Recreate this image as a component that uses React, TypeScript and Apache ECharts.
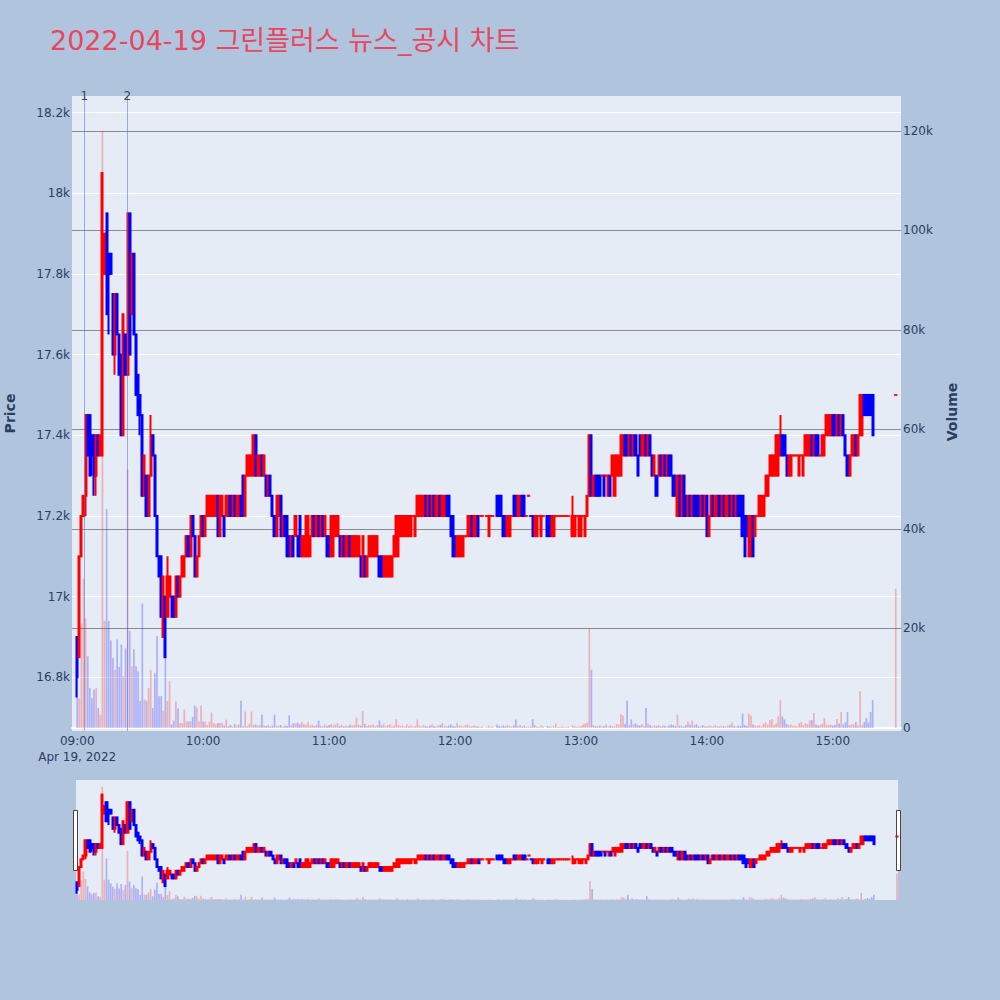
import React, { useEffect, useRef } from "react";
import * as echarts from "echarts";

const TITLE = "2022-04-19 그린플러스 뉴스_공시 차트";
const DATE_TEXT = "Apr 19, 2022";
const FONT = '"DejaVu Sans", Verdana, "Noto Sans CJK KR", sans-serif';

const hourTicks = ["09:00", "10:00", "11:00", "12:00", "13:00", "14:00", "15:00"];
const padLeft = ["08:58", "08:59"];
const padRight = ["15:31", "15:32"];
const newsMarks = [
  { name: "1", minute: 3.33 },
  { name: "2", minute: 23.8 },
];

// one entry per minute, 09:00 .. 15:30 (null = no trade)
const opens = [
  16900, 16850, 17100, 17200, 17250, 17450, 17450, 17400, 17400, 17300,
  17400, 17350, 17350, 17800, 17950, 17850, 17850, 17750, 17600, 17750,
  17650, 17600, 17400, 17650, 17550, 17950, 17700, 17850, 17650, 17550,
  17500, 17450, 17250, 17300, 17200, 17300, 17400, 17350, 17200, 17100,
  17100, 16900, 17000, 16950, 17000, 17000, 17000, 16950, 17050, 17000,
  17050, 17050, 17100, 17150, 17100, 17200, 17150, 17050, 17100, 17150,
  17200, 17150, 17200, 17200, 17200, 17200, 17200, 17250, 17150, 17200,
  17200, 17200, 17200, 17250, 17200, 17250, 17200, 17200, 17250, 17300,
  17200, 17300, 17300, 17300, 17300, 17400, 17300, 17300, 17350, 17300,
  17300, 17250, 17300, 17250, 17200, 17150, 17200, 17250, 17150, 17200,
  17200, 17150, 17100, 17150, 17150, 17150, 17200, 17100, 17100, 17100,
  17100, 17100, 17150, 17200, 17150, 17200, 17150, 17200, 17150, 17150,
  17150, 17100, 17100, 17150, 17150, 17150, 17100, 17150, 17100, 17100,
  17150, 17100, 17100, 17100, 17100, 17100, 17050, 17100, 17050, 17100,
  17100, 17100, 17100, 17100, 17100, 17100, 17050, 17050, 17050, 17050,
  17050, 17100, 17100, 17100, 17150, 17150, 17150, 17150, 17150, 17150,
  17200, 17150, 17200, 17200, 17200, 17200, 17250, 17200, 17250, 17200,
  17250, 17200, 17200, 17250, 17200, 17200, 17250, 17250, 17200, 17200,
  17150, 17100, 17100, 17100, 17100, 17150, 17150, 17150, 17200, 17150,
  17150, 17200, 17200, 17200, null, 17200, 17150, 17200, 17200, null,
  17250, 17250, 17250, 17200, 17200, 17150, 17150, 17200, 17250, 17250,
  17200, 17200, 17250, 17250, 17200, 17250, 17200, 17200, 17150, 17150,
  17200, 17150, 17200, null, 17200, 17200, 17150, 17150, 17200, 17200,
  17200, 17200, 17200, 17200, 17200, null, 17150, 17150, 17200, 17150,
  17150, 17200, 17150, 17200, 17250, 17400, 17250, 17300, 17300, 17300,
  17300, 17300, 17300, 17250, 17300, 17300, 17250, 17300, 17300, 17300,
  17350, 17400, 17400, 17350, 17400, 17350, 17400, 17350, 17400, 17350,
  17350, 17400, 17350, 17400, 17350, 17300, 17300, 17300, 17350, 17300,
  17350, 17300, 17350, 17350, 17300, 17300, 17200, 17300, 17200, 17300,
  17250, 17200, 17250, 17200, 17250, 17250, 17250, 17200, 17250, 17200,
  17250, 17150, 17200, 17250, 17200, 17200, 17250, 17200, 17250, 17200,
  17200, 17250, 17200, 17250, 17200, 17250, 17250, 17250, 17200, 17200,
  17100, 17100, 17200, 17150, 17200, 17200, 17200, 17200, 17250, 17250,
  17300, 17300, 17300, 17300, 17300, 17350, 17400, 17400, 17350, 17300,
  17300, 17350, 17350, 17350, 17300, 17350, 17300, 17350, 17350, 17350,
  17400, 17350, 17400, 17400, 17350, 17350, 17350, 17400, 17400, 17400,
  17450, 17450, 17400, 17450, 17400, 17450, 17400, 17350, 17300, 17350,
  17350, 17400, 17350, 17400, 17400, 17500, 17500, 17500, 17500, 17500,
  null, null, null, null, null, null, null, null, null, null,
  17500,
];

const closes = [
  16800, 17100, 17200, 17250, 17450, 17350, 17300, 17350, 17300, 17400,
  17350, 17400, 18050, 17900, 17700, 17800, 17800, 17600, 17750, 17650,
  17550, 17400, 17700, 17550, 17950, 17600, 17850, 17650, 17500, 17450,
  17450, 17250, 17350, 17200, 17300, 17400, 17350, 17200, 17100, 17050,
  16950, 17050, 16850, 17050, 17050, 16950, 16950, 17050, 17000, 17050,
  17100, 17100, 17150, 17100, 17200, 17150, 17050, 17100, 17150, 17200,
  17150, 17200, 17250, 17250, 17250, 17250, 17250, 17150, 17250, 17250,
  17150, 17250, 17250, 17200, 17250, 17200, 17250, 17250, 17200, 17200,
  17300, 17350, 17350, 17350, 17400, 17300, 17350, 17350, 17300, 17350,
  17250, 17300, 17250, 17200, 17150, 17250, 17250, 17150, 17200, 17150,
  17100, 17100, 17150, 17100, 17200, 17100, 17100, 17150, 17150, 17200,
  17200, 17150, 17200, 17150, 17200, 17150, 17200, 17150, 17200, 17100,
  17100, 17200, 17200, 17200, 17200, 17100, 17150, 17100, 17150, 17150,
  17100, 17150, 17150, 17150, 17150, 17050, 17150, 17050, 17100, 17150,
  17150, 17150, 17150, 17150, 17050, 17050, 17100, 17100, 17100, 17100,
  17100, 17150, 17200, 17200, 17200, 17200, 17200, 17200, 17200, 17200,
  17200, 17200, 17250, 17250, 17250, 17250, 17200, 17250, 17200, 17250,
  17200, 17250, 17250, 17200, 17250, 17250, 17200, 17200, 17150, 17100,
  17100, 17150, 17150, 17150, 17150, 17150, 17200, 17200, 17150, 17200,
  17200, 17150, 17200, 17200, null, 17200, 17200, 17200, 17200, null,
  17200, 17200, 17200, 17150, 17150, 17200, 17200, 17200, 17200, 17200,
  17250, 17250, 17200, 17200, 17200, 17250, 17200, 17150, 17200, 17200,
  17200, 17200, 17200, null, 17150, 17150, 17200, 17200, 17200, 17200,
  17200, 17200, 17200, 17200, 17200, null, 17200, 17200, 17200, 17200,
  17200, 17200, 17200, 17250, 17400, 17250, 17300, 17250, 17250, 17250,
  17300, 17250, 17300, 17300, 17250, 17350, 17350, 17350, 17350, 17400,
  17400, 17350, 17350, 17400, 17350, 17400, 17350, 17300, 17350, 17400,
  17400, 17350, 17400, 17350, 17300, 17350, 17250, 17350, 17300, 17350,
  17300, 17350, 17300, 17300, 17250, 17250, 17300, 17200, 17300, 17200,
  17200, 17250, 17200, 17250, 17200, 17200, 17200, 17250, 17200, 17250,
  17150, 17200, 17250, 17200, 17250, 17250, 17200, 17250, 17200, 17250,
  17250, 17200, 17250, 17200, 17250, 17200, 17200, 17150, 17100, 17150,
  17200, 17200, 17100, 17200, 17200, 17250, 17250, 17250, 17300, 17300,
  17350, 17350, 17350, 17400, 17400, 17400, 17350, 17350, 17300, 17350,
  17350, 17350, 17350, 17350, 17350, 17350, 17350, 17400, 17400, 17400,
  17350, 17400, 17350, 17350, 17350, 17400, 17400, 17450, 17450, 17450,
  17400, 17400, 17450, 17400, 17450, 17400, 17350, 17300, 17350, 17400,
  17400, 17350, 17400, 17500, 17500, 17450, 17450, 17450, 17450, 17400,
  null, null, null, null, null, null, null, null, null, null,
  17500,
];

// wick extremes read where a thin wick sticks out beyond the body
const highWicks: Record<number, number> = { 35: 17450, 43: 17100, 236: 17250, 335: 17450 };
const lowWicks: Record<number, number> = {
  0: 16750, 4: 17200, 7: 17300, 8: 17250, 9: 17250, 15: 17650, 18: 17550, 30: 17400,
};

const volumes = [
  10000, 6000, 21000, 30000, 22000, 14400, 8000, 6000, 7700, 8000,
  4000, 2700, 120000, 21500, 44000, 21500, 17600, 14000, 11700, 17800,
  12300, 16800, 10400, 16000, 52000, 19500, 12400, 15800, 12400, 11400,
  5400, 25000, 5700, 5500, 8000, 11700, 4000, 11000, 18500, 6400,
  6400, 3500, 14400, 5400, 9400, 700, 1500, 5400, 3900, 1000,
  1000, 3700, 1300, 1300, 1400, 2200, 4500, 4100, 1300, 4500,
  1300, 1300, 600, 1300, 3100, 1000, 800, 1000, 1000, 1000,
  500, 1700, 400, 600, 300, 800, 500, 700, 5500, 300,
  3300, 400, 800, 3300, 600, 700, 500, 600, 2700, 500,
  400, 600, 300, 500, 2700, 400, 500, 600, 300, 500,
  400, 2500, 600, 1000, 900, 1100, 700, 1200, 800, 600,
  1200, 500, 700, 400, 600, 1500, 500, 300, 700, 400,
  600, 800, 500, 700, 1000, 400, 600, 300, 500, 400,
  700, 500, 600, 2100, 700, 500, 3400, 800, 400, 600,
  500, 700, 400, 600, 1500, 500, 900, 400, 600, 700,
  300, 500, 1800, 600, 400, 500, 300, 700, 400, 500,
  300, 400, 1700, 500, 300, 600, 400, 300, 500, 700,
  400, 300, 500, 600, 1000, 400, 300, 500, 700, 400,
  300, 1000, 500, 400, 300, 600, 700, 400, 300, 500,
  400, 300, 200, 300, null, 200, 500, 200, 300, null,
  700, 400, 300, 500, 300, 600, 400, 300, 500, 1700,
  400, 600, 300, 500, 200, 300, 200, 1800, 600, 300,
  200, 500, 300, null, 400, 300, 200, 400, 900, 200,
  200, 300, 200, 200, 300, null, 500, 400, 200, 300,
  400, 700, 900, 1100, 20000, 11700, 600, 400, 300, 500,
  300, 400, 700, 300, 500, 400, 300, 800, 700, 2800,
  2500, 800, 5500, 600, 1700, 700, 900, 600, 500, 800,
  400, 4000, 900, 600, 300, 500, 400, 600, 300, 500,
  400, 300, 500, 700, 600, 400, 2700, 500, 400, 300,
  600, 1300, 700, 1500, 500, 800, 400, 300, 600, 400,
  300, 500, 400, 300, 600, 400, 300, 500, 400, 300,
  500, 600, 1100, 400, 300, 500, 400, 2900, 600, 400,
  2900, 2500, 700, 500, 400, 600, 300, 900, 1100, 700,
  1600, 1800, 600, 900, 2300, 5600, 2300, 1700, 800, 600,
  700, 400, 500, 300, 1000, 1200, 600, 1000, 800, 1500,
  1600, 3000, 700, 500, 600, 900, 2000, 700, 600, 700,
  500, 600, 1800, 900, 3200, 700, 1200, 3200, 600, 800,
  700, 1200, 500, 7400, 600, 1200, 2000, 1100, 3200, 5600,
  null, null, null, null, null, null, null, null, null, null,
  28000,
];

const UP = "#ff0000";
const DOWN = "#0000ff";
const UP_VOL = "rgba(255,0,0,0.25)";
const DOWN_VOL = "rgba(0,0,255,0.25)";

function buildSeriesData(offset: number) {
  const times: string[] = [];
  for (let m = 0; m < opens.length; m++) {
    const h = 9 + Math.floor(m / 60);
    const mm = m % 60;
    times.push(`${String(h).padStart(2, "0")}:${String(mm).padStart(2, "0")}`);
  }
  let lastClose: number | null = null;
  const candles: any[] = [];
  const vols: any[] = [];
  const dojis: any[] = [];
  opens.forEach((o, i) => {
    const c = closes[i];
    if (o == null || c == null) {
      candles.push("-");
      vols.push("-");
      return;
    }
    const up = c > o ? true : c < o ? false : lastClose == null || lastClose <= c;
    lastClose = c;
    const col = up ? UP : DOWN;
    const low = lowWicks[i] ?? Math.min(o, c);
    const high = highWicks[i] ?? Math.max(o, c);
    candles.push({
      value: [o, c, low, high],
      itemStyle: { color: col, color0: col, borderColor: col, borderColor0: col },
    });
    if (o === c) dojis.push({ value: [i + offset, c], itemStyle: { color: col } });
    const v = volumes[i];
    vols.push(v == null ? "-" : { value: v, itemStyle: { color: up ? UP_VOL : DOWN_VOL } });
  });
  return { times, candles, vols, dojis };
}

export default function App() {
  const ref = useRef<HTMLDivElement>(null);
  useEffect(() => {
    if (!ref.current) return;
    const chart = echarts.init(ref.current, undefined, { renderer: "svg" });
    const { times, candles, vols, dojis } = buildSeriesData(padLeft.length);
    const miniDojis = buildSeriesData(0).dojis;
    const mainCats = [...padLeft, ...times, ...padRight];
    const padL = padLeft.map(() => "-");
    const padR = padRight.map(() => "-");
    const axisText = { color: "#2a3f5f", fontSize: 12, fontFamily: FONT };
    const priceFmt = (v: number) => (v % 200 === 0 ? `${v / 1000}k` : "");
    const volFmt = (v: number) => (v === 0 ? "0" : v % 20000 === 0 ? `${v / 1000}k` : "");
    const candleStyle = { color: UP, color0: DOWN, borderColor: UP, borderColor0: DOWN, borderWidth: 2 };

    const option: any = {
      animation: false,
      backgroundColor: "#b0c4de",
      textStyle: { fontFamily: FONT },
      title: {
        text: TITLE,
        left: 45,
        top: 22,
        textStyle: { color: "#e8475f", fontSize: 27, fontWeight: "normal", fontFamily: FONT },
      },
      grid: [
        { left: 72, right: 99, top: 96, bottom: 269, show: true, backgroundColor: "#e5ecf6", borderWidth: 0, containLabel: false, outerBoundsMode: "none" },
        { left: 72, right: 99, top: 96, bottom: 272, containLabel: false, outerBoundsMode: "none" },
        { left: 76, right: 102, top: 780, bottom: 100, show: true, backgroundColor: "#e5ecf6", borderWidth: 0, containLabel: false, outerBoundsMode: "none" },
      ],
      xAxis: [
        {
          gridIndex: 0,
          type: "category",
          data: mainCats,
          boundaryGap: true,
          axisLine: { show: false },
          axisTick: { show: false },
          splitLine: { show: false },
          axisLabel: {
            ...axisText,
            interval: (_i: number, val: string) => hourTicks.includes(val),
            formatter: (val: string) => (val === hourTicks[0] ? `${val}\n${DATE_TEXT}` : val),
            lineHeight: 16,
            margin: 2,
          },
        },
        {
          gridIndex: 1,
          type: "category",
          data: mainCats,
          boundaryGap: true,
          axisLine: { show: true, lineStyle: { color: "#ffffff", width: 2 } },
          axisTick: { show: false },
          axisLabel: { show: false },
          splitLine: { show: false },
        },
        { gridIndex: 0, type: "value", min: -2.5, max: 392.5, show: false },
        { gridIndex: 2, type: "category", data: times, boundaryGap: true, show: false },
      ],
      yAxis: [
        {
          gridIndex: 0,
          type: "value",
          position: "left",
          min: 16667,
          max: 18241,
          splitNumber: 8,
          name: "Price",
          nameLocation: "middle",
          nameGap: 55,
          nameRotate: 90,
          nameTextStyle: { color: "#2a3f5f", fontSize: 14, fontWeight: "bold", fontFamily: FONT },
          axisLine: { show: false },
          axisTick: { show: false },
          axisLabel: { ...axisText, formatter: priceFmt, showMinLabel: false, showMaxLabel: false, margin: 2 },
          splitLine: { show: true, showMinLine: false, showMaxLine: false, lineStyle: { color: "#ffffff", width: 1 } },
        },
        {
          gridIndex: 1,
          type: "value",
          position: "right",
          min: 0,
          max: 127000,
          interval: 20000,
          name: "Volume",
          nameLocation: "middle",
          nameGap: 44,
          nameRotate: 90,
          nameTextStyle: { color: "#2a3f5f", fontSize: 14, fontWeight: "bold", fontFamily: FONT },
          axisLine: { show: false },
          axisTick: { show: false },
          axisLabel: { ...axisText, formatter: volFmt, showMaxLabel: false, margin: 2 },
          splitLine: { show: true, showMinLine: false, showMaxLine: false, lineStyle: { color: "#8c8c8c", width: 1 } },
        },
        { gridIndex: 2, type: "value", min: 16667, max: 18241, show: false, splitLine: { show: false } },
        { gridIndex: 2, type: "value", min: 0, max: 127000, show: false, splitLine: { show: false } },
      ],
      series: [
        {
          type: "bar",
          name: "Volume",
          xAxisIndex: 1,
          yAxisIndex: 1,
          data: [...padL, ...vols, ...padR],
          barWidth: 1.7,
        },
        {
          type: "candlestick",
          name: "Price",
          xAxisIndex: 0,
          yAxisIndex: 0,
          data: [...padL, ...candles, ...padR],
          barWidth: 1.6,
          itemStyle: candleStyle,
        },
        {
          type: "scatter",
          name: "PriceFlat",
          xAxisIndex: 0,
          yAxisIndex: 0,
          symbol: "rect",
          symbolSize: [3.5, 2],
          data: dojis,
          silent: true,
        },
        {
          type: "line",
          name: "news",
          xAxisIndex: 2,
          yAxisIndex: 0,
          data: [],
          markLine: {
            silent: true,
            symbol: "none",
            lineStyle: { color: "rgba(65,105,225,0.5)", width: 1, type: "solid" },
            label: { show: true, position: "end", formatter: "{b}", color: "#444444", fontSize: 12, distance: -6, fontFamily: FONT },
            data: newsMarks.map((n) => ({ name: n.name, xAxis: n.minute })),
          },
        },
        {
          type: "bar",
          name: "VolumeMini",
          xAxisIndex: 3,
          yAxisIndex: 3,
          data: vols,
          barWidth: 1.7,
        },
        {
          type: "candlestick",
          name: "PriceMini",
          xAxisIndex: 3,
          yAxisIndex: 2,
          data: candles,
          barWidth: 1.6,
          itemStyle: candleStyle,
        },
        {
          type: "scatter",
          name: "PriceFlatMini",
          xAxisIndex: 3,
          yAxisIndex: 2,
          symbol: "rect",
          symbolSize: [3.5, 2],
          data: miniDojis,
          silent: true,
        },
      ],
      graphic: [
        { type: "rect", shape: { x: 73.5, y: 810.5, width: 4, height: 60 }, style: { fill: "#ffffff", stroke: "#444444", lineWidth: 1 } },
        { type: "rect", shape: { x: 896.5, y: 810.5, width: 4, height: 60 }, style: { fill: "#ffffff", stroke: "#444444", lineWidth: 1 } },
      ],
    };
    chart.setOption(option);
    return () => chart.dispose();
  }, []);
  return <div ref={ref} style={{ position: "absolute", left: 0, top: 0, width: 1000, height: 1000 }} />;
}
